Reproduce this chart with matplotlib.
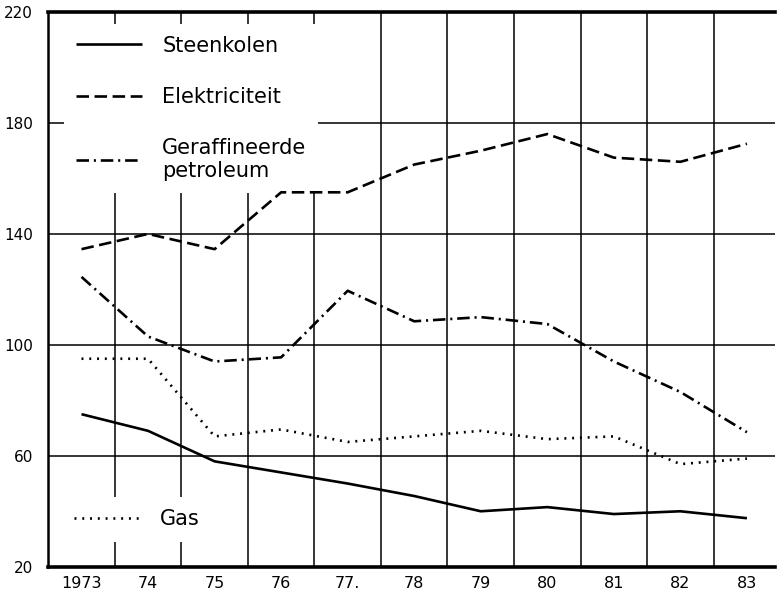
import matplotlib

matplotlib.use("Agg")
import matplotlib.pyplot as plt
import numpy as np

# Indexcijfers per energiedrager, 1973-1983
years = [1973, 1974, 1975, 1976, 1977, 1978, 1979, 1980, 1981, 1982, 1983]
year_labels = ["1973", "74", "75", "76", "77.", "78", "79", "80", "81", "82", "83"]
steenkolen = [75, 69, 58, 54, 50, 45.5, 40, 41.5, 39, 40, 37.5]
elektriciteit = [134.5, 140, 134.5, 155, 155, 165, 170, 176, 167.5, 166, 172.5]
petroleum = [124.5, 103, 94, 95.5, 119.5, 108.5, 110, 107.5, 94, 83, 68.5]
gas = [95, 95, 67, 69.5, 65, 67, 69, 66, 67, 57, 59]
y_ticks = [20, 60, 100, 140, 180, 220]

plt.rcParams["lines.scale_dashes"] = False
plt.rcParams["font.family"] = ["DejaVu Sans"]

fig = plt.figure(figsize=(7.78, 6.01), dpi=100)
ax = fig.add_axes([0.062, 0.057, 0.934, 0.923])

lw = 1.9
l1, = ax.plot(years, steenkolen, color="black", lw=lw, solid_capstyle="butt")
l2, = ax.plot(years, elektriciteit, color="black", lw=lw, dashes=(9, 4))
l3, = ax.plot(years, petroleum, color="black", lw=lw, dashes=(9, 3.5, 1.5, 3.5))
l4, = ax.plot(years, gas, color="black", lw=lw, dashes=(1.4, 4.2))

ax.set_xlim(1972.5, 1983.42)
ax.set_ylim(20, 220)

ax.set_xticks(years)
ax.set_xticklabels(year_labels, fontsize=11.5)
ax.set_xticks(np.arange(1973.5, 1983, 1.0), minor=True)
ax.set_yticks(y_ticks)
ax.set_yticklabels([str(v) for v in y_ticks], fontsize=11)
ax.tick_params(which="both", length=0)
ax.tick_params(axis="y", pad=11)
ax.tick_params(axis="x", pad=7)

ax.grid(which="minor", axis="x", color="black", lw=1.1)
ax.grid(which="major", axis="y", color="black", lw=1.1)
ax.grid(which="major", axis="x", visible=False)

for side in ["top", "bottom"]:
    ax.spines[side].set_linewidth(2.6)
ax.spines["left"].set_linewidth(1.8)
ax.spines["right"].set_visible(False)

# legend boxes sit above the grid but under the curves
leg = ax.legend(
    [l1, l2, l3], ["Steenkolen", "Elektriciteit", "Geraffineerde\npetroleum"],
    loc="upper left", bbox_to_anchor=(0.022, 0.978), borderaxespad=0,
    fontsize=15, handlelength=3.2, handletextpad=0.95, labelspacing=1.5,
    frameon=True, fancybox=False, framealpha=1, facecolor="white",
    edgecolor="none", borderpad=0.55,
)
leg.set_zorder(1.8)
ax.add_artist(leg)
leg2 = ax.legend(
    [l4], ["Gas"], loc="lower left", bbox_to_anchor=(0.018, 0.045),
    borderaxespad=0, fontsize=15, handlelength=3.2, handletextpad=0.95,
    frameon=True, fancybox=False, framealpha=1, facecolor="white",
    edgecolor="none", borderpad=0.6,
)
leg2.set_zorder(1.8)

fig.savefig("out.png", dpi=100)
